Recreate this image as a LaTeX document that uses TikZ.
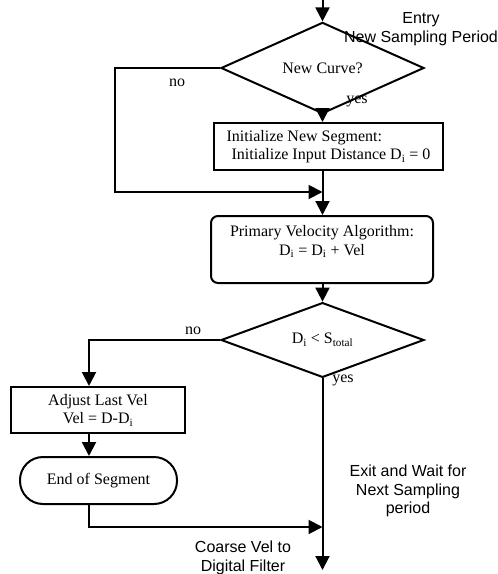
\documentclass[tikz,border=0pt]{standalone}
\usepackage{fontspec}
\setmainfont{Liberation Serif}
\setsansfont{Liberation Sans}
\usepackage{tikz}
\usetikzlibrary{shapes.geometric,arrows.meta}

\tikzset{
  decision/.style={diamond, draw, line width=2pt, inner sep=0pt,
    minimum width=203pt, minimum height=46pt},
  process/.style={rectangle, draw, line width=2pt, align=center},
  terminal/.style={rectangle, draw, line width=2pt, rounded corners=23pt},
  flowline/.style={line width=2pt, -{Triangle[length=14pt,width=14pt]}},
  note/.style={font=\sffamily\fontsize{16}{18.5}\selectfont, align=center}
}

\begin{document}
\begin{tikzpicture}[x=1pt,y=-1pt,font=\fontsize{16}{18.5}\selectfont]
        % page size of the chart
        \useasboundingbox (0,0) rectangle (498,574);

        % boxes of the flow chart
        \node[decision] (newcurve) at (322.5,68) {New Curve?};
        \node[process, align=left, minimum width=229pt, minimum height=47pt]
          (initseg) at (328.5,146.5)
          {Initialize New Segment:\\\hspace{5pt}Initialize Input Distance D\textsubscript{i} = 0};
        \node[process, rounded corners=7pt, minimum width=222pt, minimum height=67pt]
          (primvel) at (322,249.5)
          {Primary Velocity Algorithm:\\D\textsubscript{i} = D\textsubscript{i} + Vel\\\mbox{}};
        \node[decision] (dcheck) at (322.5,340) {D\textsubscript{i} < S\textsubscript{total}};
        \node[process, minimum width=174pt, minimum height=46pt]
          (adjvel) at (98,410) {Adjust Last Vel\\Vel = D-D\textsubscript{i}};
        \node[terminal, minimum width=157pt, minimum height=47pt]
          (endseg) at (98.5,480.5) {End of Segment};

        % points where the lines meet
        \coordinate (entry) at (322.5,0);
        \coordinate (merge1) at (322.5,192);
        \coordinate (merge2) at (322.5,527);
        \coordinate (exit) at (322.5,570);
        \coordinate (leftcol) at (89,0);

        % connectors
        \draw[flowline] (entry) -- (newcurve.north);
        \draw[flowline] (newcurve.south) -- (newcurve.south |- initseg.north);
        \draw[line width=2pt] (merge1 |- initseg.south) -- (merge1);
        \draw[flowline] (newcurve.west) -- ++(-105,0) |- (merge1);
        \draw[flowline] (merge1) -- (merge1 |- primvel.north);
        \draw[flowline] (dcheck.north |- primvel.south) -- (dcheck.north);
        \draw[flowline] (dcheck.west) -| (adjvel.north -| leftcol);
        \draw[flowline] (adjvel.south -| leftcol) -- (endseg.north -| leftcol);
        \draw[flowline] (endseg.south -| leftcol) |- (merge2);
        \draw[flowline] (dcheck.south) -- (exit);

        % labels
        \node (nolabel1) at (177,83) {no};
        \node (yeslabel1) at (357,101) {yes};
        \node (nolabel2) at (193,331) {no};
        \node (yeslabel2) at (343,380) {yes};
        \node[note] (entrytext) at (421,29) {Entry\\New Sampling Period};
        \node[note] (exittext) at (408,491) {Exit and Wait for\\Next Sampling\\period};
        \node[note] (coarsetext) at (243,558) {Coarse Vel to\\Digital Filter};
    \end{tikzpicture}
\end{document}
